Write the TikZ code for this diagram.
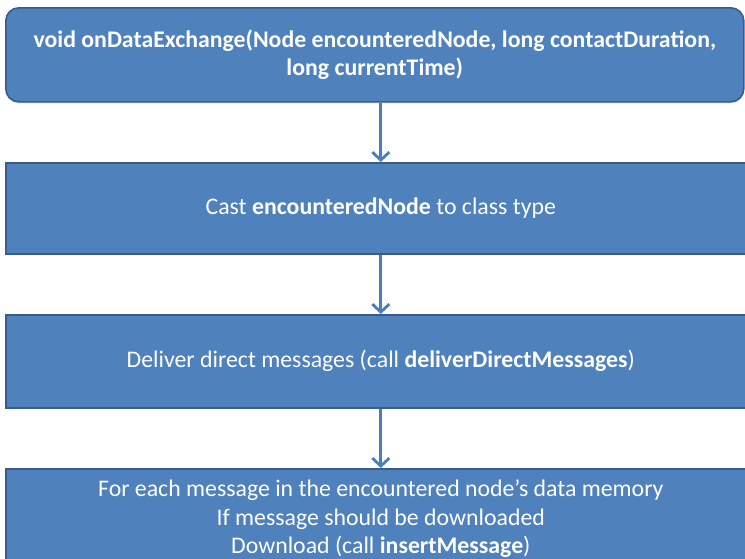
\documentclass[tikz,border=0pt]{standalone}
\usepackage{fontspec}
\setmainfont{Carlito}
\usetikzlibrary{arrows.meta,shadows}
\definecolor{boxfill}{HTML}{4F81BD}
\definecolor{boxline}{HTML}{385D8A}
\definecolor{flowcol}{HTML}{4A7EBB}

\begin{document}
\begin{tikzpicture}[x=1pt,y=-1pt]

    \tikzset{
      stepbox/.style={
        draw=boxline,
        line width=1.6pt,
        fill=boxfill,
        text=white,
        align=center,
        inner sep=0pt,
        anchor=north west,
        font=\fontsize{23.8}{28.5}\selectfont,
        drop shadow={shadow xshift=0pt,shadow yshift=-1.5pt,opacity=0.3},
      },
      flow/.style={
        draw=flowcol,
        line width=2.8pt,
        -{Straight Barb[length=8pt,width=17pt]},
      },
    }
    \useasboundingbox (0,0) rectangle (745,558);
    \clip (0,0) rectangle (745,558);
	\node[stepbox,rounded corners=13pt,minimum width=738pt,minimum height=94pt] (signature) at (5,7) {\textbf{void onDataExchange(Node encounteredNode, long contactDuration,}\\\textbf{long currentTime)}};
	\node[stepbox,minimum width=750pt,minimum height=91pt] (cast) at (5,162) {Cast \textbf{encounteredNode} to class type};
	\node[stepbox,minimum width=750pt,minimum height=93pt] (deliver) at (5,314) {Deliver direct messages (call \textbf{deliverDirectMessages})};
	\node[stepbox,minimum width=750pt,minimum height=100pt] (download) at (5,468) {For each message in the encountered node’s data memory\\If message should be downloaded\\Download (call \textbf{insertMessage})};

	\draw[flow] (signature.south -| cast.north) -- (cast.north);
	\draw[flow] (cast.south) -- (deliver.north);
	\draw[flow] (deliver.south) -- (download.north);

\end{tikzpicture}
\end{document}
